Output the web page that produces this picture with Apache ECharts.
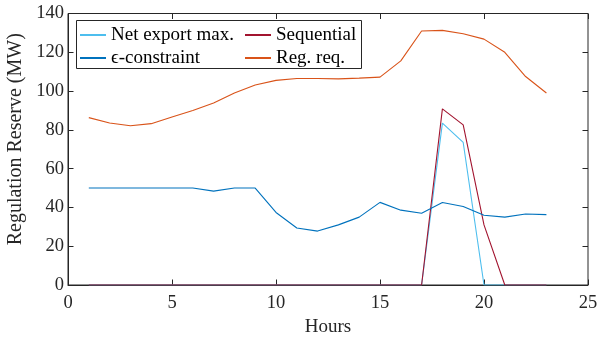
<!DOCTYPE html>
<html>
<head>
<meta charset="utf-8">
<script src="https://cdn.jsdelivr.net/npm/echarts@6/dist/echarts.min.js"></script>
<style>html,body{margin:0;padding:0;background:#fff;}#c{width:608px;height:339px;}</style>
</head>
<body>
<div id="c"></div>
<script>
const hours = [1,2,3,4,5,6,7,8,9,10,11,12,13,14,15,16,17,18,19,20,21,22,23];
const netExportMax = [0,0,0,0,0,0,0,0,0,0,0,0,0,0,0,0,0,83.5,73.5,0,0,0,0];
const sequential   = [0,0,0,0,0,0,0,0,0,0,0,0,0,0,0,0,0,90.8,82.6,31,0,0,0];
const epsConstraint = [50,50,50,50,50,50,48.4,50,50,37.4,29.4,27.8,31,35,42.6,38.6,37,42.5,40.5,36,35,36.6,36.3];
const regReq = [86.3,83.5,82.1,83.2,86.6,90,93.8,99,103.1,105.5,106.5,106.5,106.3,106.7,107.2,115.6,131,131.3,129.6,126.8,120,107.5,99];
const xTicks = {min:0, max:25, interval:5};
const yTicks = {min:0, max:140, interval:20};
const names = ['Net export max.', 'Sequential', '\u03F5-constraint', 'Reg. req.'];

const pairs = arr => hours.map((h,i)=>[h, arr[i]]);
const font = "'Liberation Serif', 'Times New Roman', serif";
const axisColor = '#262626';
const tickStyle = {show:true, inside:true, length:5.5, lineStyle:{color:axisColor, width:1}};
const chart = echarts.init(document.getElementById('c'), null, {renderer:'canvas'});
const mkSeries = (name, arr, color) => ({
  name, type:'line', data:pairs(arr), symbol:'none', showSymbol:false,
  lineStyle:{color, width:1.1}, itemStyle:{color}, animation:false
});
const legendBase = {orient:'vertical', top:25.5, padding:0, itemGap:4, itemWidth:26, itemHeight:2,
  icon:'rect', textStyle:{fontFamily:font, fontSize:19, color:'#000'}};
chart.setOption({
  animation:false,
  backgroundColor:'#fff',
  grid:{left:68, right:20, top:13.5, bottom:54, containLabel:false, outerBoundsMode:'none',
    show:true, borderColor:axisColor, borderWidth:1, backgroundColor:'transparent'},
  xAxis:[
    {type:'value', position:'bottom', min:xTicks.min, max:xTicks.max, interval:xTicks.interval,
      name:'Hours', nameLocation:'middle', nameGap:30,
      nameTextStyle:{fontFamily:font, fontSize:19, color:axisColor},
      axisLine:{show:true, onZero:false, lineStyle:{color:axisColor, width:1}},
      axisTick:tickStyle, splitLine:{show:false},
      axisLabel:{fontFamily:font, fontSize:18.5, color:axisColor, margin:9}},
    {type:'value', position:'top', min:xTicks.min, max:xTicks.max, interval:xTicks.interval,
      axisLine:{show:false, onZero:false}, axisTick:tickStyle, splitLine:{show:false}, axisLabel:{show:false}}
  ],
  yAxis:[
    {type:'value', position:'left', min:yTicks.min, max:yTicks.max, interval:yTicks.interval,
      name:'Regulation Reserve (MW)', nameLocation:'middle', nameGap:25,
      nameTextStyle:{fontFamily:font, fontSize:20, color:axisColor, padding:[0,0,0,20]},
      axisLine:{show:true, onZero:false, lineStyle:{color:axisColor, width:1}},
      axisTick:tickStyle, splitLine:{show:false},
      axisLabel:{fontFamily:font, fontSize:18.5, color:axisColor, margin:4}},
    {type:'value', position:'right', min:yTicks.min, max:yTicks.max, interval:yTicks.interval,
      axisLine:{show:false, onZero:false}, axisTick:tickStyle, splitLine:{show:false}, axisLabel:{show:false}}
  ],
  legend:[
    Object.assign({left:80, data:[names[0], names[2]]}, legendBase),
    Object.assign({left:245, data:[names[1], names[3]]}, legendBase)
  ],
  graphic:[{type:'rect', shape:{x:76.5, y:20.5, width:285, height:48}, style:{fill:'#fff', stroke:'#262626', lineWidth:1}, z:-1, silent:true}],
  series:[
    mkSeries(names[0], netExportMax, '#4DBEEE'),
    mkSeries(names[1], sequential, '#A2142F'),
    mkSeries(names[2], epsConstraint, '#0072BD'),
    mkSeries(names[3], regReq, '#D95319')
  ]
});
</script>
</body>
</html>
